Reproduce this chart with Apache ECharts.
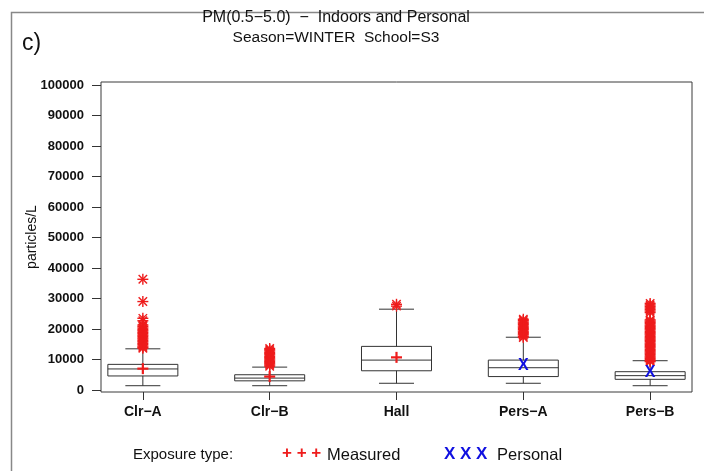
<!DOCTYPE html>
<html><head><meta charset="utf-8">
<script src="https://cdn.jsdelivr.net/npm/echarts@6/dist/echarts.min.js"></script>
<style>html,body{margin:0;padding:0;background:#fff}#c{width:704px;height:471px}</style>
</head><body><div id="c"></div>
<script>
// ---- data ----
const categories = ['Clr\u2212A', 'Clr\u2212B', 'Hall', 'Pers\u2212A', 'Pers\u2212B'];
// [min whisker, Q1, median, Q3, max whisker]
const boxStats = [
  [1400, 4600, 6900, 8400, 13500],
  [1400, 3000, 3900, 5000, 7500],
  [2200, 6300, 9800, 14300, 26500],
  [2200, 4400, 7300, 9800, 17300],
  [1400, 3500, 4700, 6000, 9600]
];
const meanMeasured = [[0, 7000], [1, 4400], [2, 10700]];
const meanPersonal = [[3, 8200], [4, 5900]];
const outClrA = [36300, 29000, 23500, 22700, 21300, 20800, 20300, 19800, 19400, 18900, 18500, 18000, 17600, 17100, 16700, 16200, 15800, 15300, 14900, 14400, 14000, 13700];
const outClrB = [13600, 13200, 12800, 12300, 11900, 11500, 11000, 10600, 10200, 9800, 9400, 9000, 8600, 8200, 7800];
const outHall = [28100, 27500];
const outPersA = [23200, 22800, 22300, 21900, 21500, 21000, 20600, 20200, 19800, 19300, 18900, 18500, 18100, 17600, 17200];
const outPersB = [28400, 27900, 27400, 26900, 26400, 25900, 25400, 23000, 22600, 22200, 21800, 21300, 20900, 20500, 20100, 19700, 19200, 18800, 18400, 18000, 17500, 17100, 16700, 16300, 15900, 15400, 15000, 14600, 14200, 13800, 13300, 12900, 12500, 12100, 11700, 11200, 10800, 10400, 10000, 9600, 9300];
const outliers = [outClrA, outClrB, outHall, outPersA, outPersB];
const yTicks = [0, 10000, 20000, 30000, 40000, 50000, 60000, 70000, 80000, 90000, 100000];
const xTicks = [0, 1, 2, 3, 4];

// ---- build ----
const boxData = boxStats.map((s, i) => [i].concat(s));
const outData = [];
outliers.forEach((arr, i) => arr.forEach(v => outData.push([i, v])));

const FONT = 'Liberation Sans';
const RED = '#ee1c1c', BLUE = '#1010e0';
const chart = echarts.init(document.getElementById('c'), null, {renderer: 'canvas'});
chart.setOption({
  animation: false,
  backgroundColor: '#fff',
  grid: {left: 101, right: 12, top: 82, bottom: 79, show: true, borderColor: '#3a3a3a', borderWidth: 1, backgroundColor: 'transparent'},
  xAxis: {
    type: 'value', min: -0.33, max: 4.33,
    splitLine: {show: false},
    axisLine: {show: false, onZero: false},
    axisTick: {show: true, customValues: xTicks, length: 8, lineStyle: {color: '#333', width: 1}},
    axisLabel: {customValues: xTicks, formatter: v => categories[Math.round(v)] || '', color: '#111', fontFamily: FONT, fontSize: 14, fontWeight: 'bold', margin: 13}
  },
  yAxis: {
    type: 'value', min: -660, max: 101000,
    name: 'particles/L', nameLocation: 'middle', nameGap: 62, nameRotate: 90, nameMoveOverlap: false,
    nameTextStyle: {color: '#111', fontFamily: FONT, fontSize: 14},
    splitLine: {show: false},
    axisLine: {show: false, onZero: false},
    axisTick: {show: true, customValues: yTicks, length: 9, lineStyle: {color: '#333', width: 1}},
    axisLabel: {customValues: yTicks, formatter: v => String(v), color: '#111', fontFamily: FONT, fontSize: 13, fontWeight: 'bold', margin: 17}
  },
  series: [
    {
      type: 'custom', name: 'box', data: boxData, z: 3,
      renderItem: function (params, api) {
        const x = api.value(0);
        const pMin = api.coord([x, api.value(1)]);
        const pQ1 = api.coord([x, api.value(2)]);
        const pMed = api.coord([x, api.value(3)]);
        const pQ3 = api.coord([x, api.value(4)]);
        const pMax = api.coord([x, api.value(5)]);
        const hw = api.size([0.552, 0])[0] / 2;
        const cw = hw / 2;
        const cx = pMed[0];
        const st = {stroke: '#333', lineWidth: 1, fill: null};
        return {type: 'group', children: [
          {type: 'rect', shape: {x: cx - hw, y: pQ3[1], width: hw * 2, height: pQ1[1] - pQ3[1]}, style: {stroke: '#333', lineWidth: 1, fill: '#fff'}},
          {type: 'line', shape: {x1: cx - hw, y1: pMed[1], x2: cx + hw, y2: pMed[1]}, style: st},
          {type: 'line', shape: {x1: cx, y1: pQ3[1], x2: cx, y2: pMax[1]}, style: st},
          {type: 'line', shape: {x1: cx, y1: pQ1[1], x2: cx, y2: pMin[1]}, style: st},
          {type: 'line', shape: {x1: cx - cw, y1: pMax[1], x2: cx + cw, y2: pMax[1]}, style: st},
          {type: 'line', shape: {x1: cx - cw, y1: pMin[1], x2: cx + cw, y2: pMin[1]}, style: st}
        ]};
      }
    },
    {
      type: 'custom', name: 'outliers', data: outData, z: 4,
      renderItem: function (params, api) {
        const p = api.coord([api.value(0), api.value(1)]);
        const r = 5.5, d = 4.2;
        const st = {stroke: RED, lineWidth: 1.4};
        return {type: 'group', children: [
          {type: 'line', shape: {x1: p[0], y1: p[1] - r, x2: p[0], y2: p[1] + r}, style: st},
          {type: 'line', shape: {x1: p[0] - r, y1: p[1], x2: p[0] + r, y2: p[1]}, style: st},
          {type: 'line', shape: {x1: p[0] - d, y1: p[1] - d, x2: p[0] + d, y2: p[1] + d}, style: st},
          {type: 'line', shape: {x1: p[0] - d, y1: p[1] + d, x2: p[0] + d, y2: p[1] - d}, style: st}
        ]};
      }
    },
    {
      type: 'custom', name: 'Measured', data: meanMeasured, z: 5,
      renderItem: function (params, api) {
        const p = api.coord([api.value(0), api.value(1)]);
        const r = 5.5;
        const st = {stroke: RED, lineWidth: 2.2};
        return {type: 'group', children: [
          {type: 'line', shape: {x1: p[0], y1: p[1] - r, x2: p[0], y2: p[1] + r}, style: st},
          {type: 'line', shape: {x1: p[0] - r, y1: p[1], x2: p[0] + r, y2: p[1]}, style: st}
        ]};
      }
    },
    {
      type: 'custom', name: 'Personal', data: meanPersonal, z: 5,
      renderItem: function (params, api) {
        const p = api.coord([api.value(0), api.value(1)]);
        return {type: 'text', x: p[0], y: p[1] + 1, style: {text: 'X', fill: BLUE, font: 'bold 16px ' + FONT, align: 'center', verticalAlign: 'middle'}};
      }
    }
  ],
  graphic: [
    {type: 'rect', left: 9, top: 10, shape: {width: 720, height: 490}, style: {fill: null, stroke: '#888', lineWidth: 1.5}, silent: true},
    {type: 'text', left: 22, top: 32, style: {text: 'c)', fill: '#111', font: '23px ' + FONT}},
    {type: 'text', x: 336, y: 18, style: {text: 'PM(0.5\u22125.0)  \u2212  Indoors and Personal', fill: '#111', font: '16px ' + FONT, align: 'center', verticalAlign: 'middle'}},
    {type: 'text', x: 336, y: 38, style: {text: 'Season=WINTER  School=S3', fill: '#111', font: '15.5px ' + FONT, align: 'center', verticalAlign: 'middle'}},
    {type: 'text', x: 133, y: 455, style: {text: 'Exposure type:', fill: '#111', font: '15px ' + FONT, verticalAlign: 'middle'}},
    {type: 'text', x: 282, y: 453, style: {text: '+ + +', fill: RED, font: 'bold 17px ' + FONT, verticalAlign: 'middle'}},
    {type: 'text', x: 327, y: 455, style: {text: 'Measured', fill: '#111', font: '16.5px ' + FONT, verticalAlign: 'middle'}},
    {type: 'text', x: 444, y: 454, style: {text: 'X X X', fill: BLUE, font: 'bold 17px ' + FONT, verticalAlign: 'middle'}},
    {type: 'text', x: 497, y: 455, style: {text: 'Personal', fill: '#111', font: '16.5px ' + FONT, verticalAlign: 'middle'}}
  ]
});
</script></body></html>
